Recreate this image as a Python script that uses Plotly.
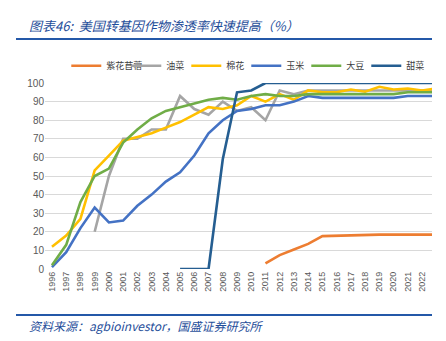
import plotly.graph_objects as go

years = list(range(1996, 2024))
tick_years = list(range(1996, 2023))

# 紫花苜蓿 (alfalfa) from 2011
alfalfa_years = list(range(2011, 2024))
alfalfa = [3, 7.5, 10.5, 13.5, 17.7, 18, 18.2, 18.4, 18.5, 18.5, 18.5, 18.5, 18.5]

# 油菜 (canola) from 1999
canola_years = list(range(1999, 2024))
canola = [20, 50, 70, 70, 75, 75, 93, 86, 83, 90, 85, 87, 80, 96, 94, 96, 96, 96, 96, 96, 96, 96, 96, 96, 96]

# 棉花 (cotton)
cotton = [12, 18, 27, 53, 61, 69, 71, 73, 76, 79, 83, 87, 86, 88, 93, 90, 94, 91, 96, 95, 95, 96.5, 95.3, 98, 96.5, 97, 96, 97]

# 玉米 (corn)
corn = [1, 9, 22, 33, 25, 26, 34, 40, 47, 52, 61, 73, 80, 85, 86, 88, 88, 90, 93, 92, 92, 92, 92, 92, 92, 93, 93, 93]

# 大豆 (soybean)
soy = [2, 13, 36, 50, 54, 68, 75, 81, 85, 87, 89, 91, 92, 91, 93, 94, 93, 93, 94, 94, 94, 94, 94, 94, 94, 95, 95, 95]

# 甜菜 (sugar beet) from 2005
beet_years = list(range(2005, 2024))
beet = [0, 0, 0, 59, 95, 96, 100, 100, 100, 100, 100, 100, 100, 100, 100, 100, 100, 100, 100]

names = ["紫花苜蓿", "油菜", "棉花", "玉米", "大豆", "甜菜"]
colors = ["#ED7D31", "#A5A5A5", "#FFC000", "#4472C4", "#70AD47", "#255E91"]

series = [
    (alfalfa_years, alfalfa),
    (canola_years, canola),
    (years, cotton),
    (years, corn),
    (years, soy),
    (beet_years, beet),
]

fig = go.Figure()
for (xs, ys), name, color in zip(series, names, colors):
    fig.add_trace(go.Scatter(x=xs, y=ys, mode="lines", name=name,
                             line=dict(color=color, width=2.6)))

fig.update_layout(
    width=446, height=341,
    margin=dict(l=45, r=14, t=83, b=72),
    paper_bgcolor="white", plot_bgcolor="white",
    font=dict(family="Noto Sans CJK SC, Liberation Sans, sans-serif", color="#595959"),
    showlegend=True,
    legend=dict(orientation="h", x=0.055, xanchor="left", y=1.015, yanchor="bottom",
                font=dict(size=9, color="#404040"), itemwidth=30,
                entrywidth=15, entrywidthmode="pixels",
                bgcolor="rgba(0,0,0,0)", tracegroupgap=0),
    xaxis=dict(range=[1995.51, 2022.7], tickmode="array", tickvals=tick_years,
               ticktext=[str(y) for y in tick_years], tickangle=-90,
               tickfont=dict(size=9, color="#595959", family="Liberation Sans, sans-serif"),
               showgrid=False, zeroline=False, showline=False, ticks=""),
    yaxis=dict(range=[0, 100], tickvals=list(range(0, 101, 10)),
               tickfont=dict(size=10, color="#595959", family="Liberation Sans, sans-serif"),
               showgrid=True, gridcolor="#D9D9D9", gridwidth=1,
               zeroline=False, showline=False, ticks="", ticklen=4),
)

# Title and footer
fig.add_annotation(text="<i>图表46:  美国转基因作物渗透率快速提高（%）</i>", xref="paper", yref="paper",
                   x=(27-45)/387, y=1 + (83-25)/186, xanchor="left", yanchor="middle",
                   showarrow=False, font=dict(size=13, color="#1F4E9A",
                                              family="Noto Sans CJK SC, sans-serif"))
fig.add_annotation(text="<i>资料来源：agbioinvestor，国盛证券研究所</i>", xref="paper", yref="paper",
                   x=(27-45)/387, y=-(325-269)/186, xanchor="left", yanchor="middle",
                   showarrow=False, font=dict(size=12, color="#1F4E9A",
                                              family="Noto Sans CJK SC, sans-serif"))
fig.add_shape(type="line", xref="paper", yref="paper",
              x0=(16-45)/387, x1=(432-45)/387, y0=1 + (83-39)/186, y1=1 + (83-39)/186,
              line=dict(color="#2458A8", width=2))
fig.add_shape(type="line", xref="paper", yref="paper",
              x0=(16-45)/387, x1=(432-45)/387, y0=-(315-269)/186, y1=-(315-269)/186,
              line=dict(color="#2458A8", width=2))

fig.write_html("out.html")
